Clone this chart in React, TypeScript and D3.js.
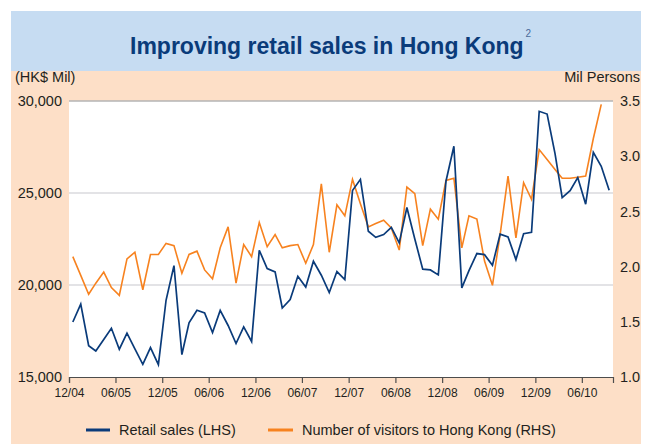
import React, { useEffect, useRef } from "react";
import * as d3 from "d3";

// monthly series, first point = Dec 2004
const startMonth = "12/04";
const tickLabels = ["12/04", "06/05", "12/05", "06/06", "12/06", "06/07", "12/07", "06/08", "12/08", "06/09", "12/09", "06/10"];
const endMonth = "10/10";

// Retail sales (HK$ Mil, LHS)
const retailSales = [
  17990, 18960, 16700, 16410, 17040, 17650, 16510, 17380, 16530, 15690, 16600, 15670,
  19170, 21050, 16220, 17950, 18630, 18480, 17420, 18620, 17800, 16820, 17720, 16930,
  21890, 20890, 20710, 18750, 19210, 20470, 19890, 21290, 20530, 19590, 20730, 20290,
  25130, 25740, 22920, 22590, 22740, 23130, 22290, 24210, 22500, 20860, 20820, 20550,
  25640, 27540, 19840, 20780, 21710, 21650, 21070, 22760, 22610, 21380, 22790, 22860,
  29440, 29290, 27140, 24750, 25130, 25840, 24390, 27210, 26450, 25150,
];

// Number of visitors to Hong Kong (Mil persons, RHS)
const visitors = [
  2.09, 1.92, 1.75, 1.85, 1.95, 1.81, 1.74, 2.07, 2.13, 1.79, 2.11, 2.11,
  2.21, 2.19, 1.94, 2.11, 2.14, 1.97, 1.89, 2.17, 2.36, 1.85, 2.2, 2.09,
  2.4, 2.18, 2.29, 2.17, 2.19, 2.2, 2.03, 2.2, 2.75, 2.13, 2.56, 2.46,
  2.79, 2.57, 2.36, 2.39, 2.42, 2.35, 2.15, 2.72, 2.66, 2.19, 2.52, 2.43,
  2.78, 2.8, 2.17, 2.46, 2.43, 2.05, 1.83, 2.29, 2.82, 2.26, 2.76, 2.61,
  3.06, 2.97, 2.88, 2.8, 2.8, 2.81, 2.82, 3.16, 3.47,
];

const leftTicks = [15000, 20000, 25000, 30000];
const rightTicks = [1.0, 1.5, 2.0, 2.5, 3.0, 3.5];

const W = 648;
const H = 444;
const plot = { left: 69, right: 613, top: 101, bottom: 377 };

const navy = "#0a3b7a";
const orange = "#f7821f";
const peach = "#fddfc7";
const textColor = "#231f20";
const font = "'Liberation Sans', Arial, Helvetica, sans-serif";

export default function App() {
  const xAxisRef = useRef<SVGGElement>(null);
  const leftAxisRef = useRef<SVGGElement>(null);
  const rightAxisRef = useRef<SVGGElement>(null);

  const parse = d3.timeParse("%m/%y");
  const x = d3
    .scaleTime()
    .domain([parse(startMonth)!, parse(endMonth)!])
    .range([plot.left, plot.right]);
  const yL = d3.scaleLinear().domain([15000, 30000]).range([plot.bottom, plot.top]);
  const yR = d3.scaleLinear().domain([1.0, 3.5]).range([plot.bottom, plot.top]);

  // points sit in the middle of their month
  const pointDate = (i: number) => d3.timeDay.offset(d3.timeMonth.offset(parse(startMonth)!, i), 15);

  const salesLine = d3
    .line<number>()
    .x((_, i) => x(pointDate(i)))
    .y((d) => yL(d));
  const visitorsLine = d3
    .line<number>()
    .x((_, i) => x(pointDate(i)))
    .y((d) => yR(d));

  useEffect(() => {
    const xAxis = d3
      .axisBottom(x)
      .tickValues(tickLabels.map((t) => parse(t)!))
      .tickFormat((d) => d3.timeFormat("%m/%y")(d as Date))
      .tickSize(6)
      .tickSizeOuter(6)
      .tickPadding(5);
    const gx = d3.select(xAxisRef.current!).call(xAxis);
    gx.select(".domain").attr("stroke", "#4d4d4d").attr("stroke-width", 1.2);
    gx.selectAll(".tick line").attr("stroke", "#4d4d4d").attr("stroke-width", 1.2);
    gx.selectAll(".tick text")
      .attr("fill", textColor)
      .style("font-family", font)
      .style("font-size", "12px");

    const leftAxis = d3
      .axisLeft(yL)
      .tickValues(leftTicks)
      .tickSize(0)
      .tickPadding(7)
      .tickFormat(d3.format(","));
    const gl = d3.select(leftAxisRef.current!).call(leftAxis);
    gl.select(".domain").remove();
    gl.selectAll(".tick text")
      .attr("fill", textColor)
      .style("font-family", font)
      .style("font-size", "14.5px");

    const rightAxis = d3
      .axisRight(yR)
      .tickValues(rightTicks)
      .tickSize(0)
      .tickPadding(7)
      .tickFormat(d3.format(".1f"));
    const gr = d3.select(rightAxisRef.current!).call(rightAxis);
    gr.select(".domain").remove();
    gr.selectAll(".tick text")
      .attr("fill", textColor)
      .style("font-family", font)
      .style("font-size", "14.5px");
  }, []);

  return (
    <svg
      width={W}
      height={H}
      style={{ position: "absolute", left: 0, top: 0, display: "block", background: "#fff" }}
    >
      {/* panel */}
      <rect x={11} y={11} width={630} height={H - 11} fill={peach} />
      <rect x={11} y={11} width={630} height={60} fill="#c6dcf2" />
      <text x={130} y={54} fill={navy} fontFamily={font} fontWeight="bold" fontSize={23}>
        Improving retail sales in Hong Kong
        <tspan dx={2} dy={-17} fontSize={10} fontWeight="normal" fill="#4a6a9a">
          2
        </tspan>
      </text>

      {/* units */}
      <text x={15} y={82} fill={textColor} fontFamily={font} fontSize={14.5}>
        (HK$ Mil)
      </text>
      <text x={640} y={82} textAnchor="end" fill={textColor} fontFamily={font} fontSize={14.5}>
        Mil Persons
      </text>

      {/* plot area */}
      <rect x={plot.left} y={plot.top} width={plot.right - plot.left} height={plot.bottom - plot.top} fill="#fff" />
      {leftTicks
        .filter((t) => t > 15000 && t < 30000)
        .map((t) => (
          <line key={t} x1={plot.left} x2={plot.right} y1={yL(t)} y2={yL(t)} stroke="#e3e3e6" strokeWidth={2} />
        ))}
      <line x1={plot.left} x2={plot.right} y1={yL(30000)} y2={yL(30000)} stroke="#b5b5b5" strokeWidth={1.5} />

      <path d={visitorsLine(visitors) ?? ""} fill="none" stroke={orange} strokeWidth={1.6} strokeLinejoin="miter" />
      <path d={salesLine(retailSales) ?? ""} fill="none" stroke={navy} strokeWidth={1.7} strokeLinejoin="miter" />

      <g ref={xAxisRef} transform={`translate(0,${plot.bottom})`} />
      <g ref={leftAxisRef} transform={`translate(${plot.left},0)`} />
      <g ref={rightAxisRef} transform={`translate(${plot.right},0)`} />

      {/* legend */}
      <line x1={86} x2={110} y1={430} y2={430} stroke={navy} strokeWidth={3} />
      <text x={119} y={435} fill={textColor} fontFamily={font} fontSize={14.5}>
        Retail sales (LHS)
      </text>
      <line x1={268} x2={293} y1={430} y2={430} stroke={orange} strokeWidth={3} />
      <text x={302} y={435} fill={textColor} fontFamily={font} fontSize={14.5}>
        Number of visitors to Hong Kong (RHS)
      </text>
    </svg>
  );
}
